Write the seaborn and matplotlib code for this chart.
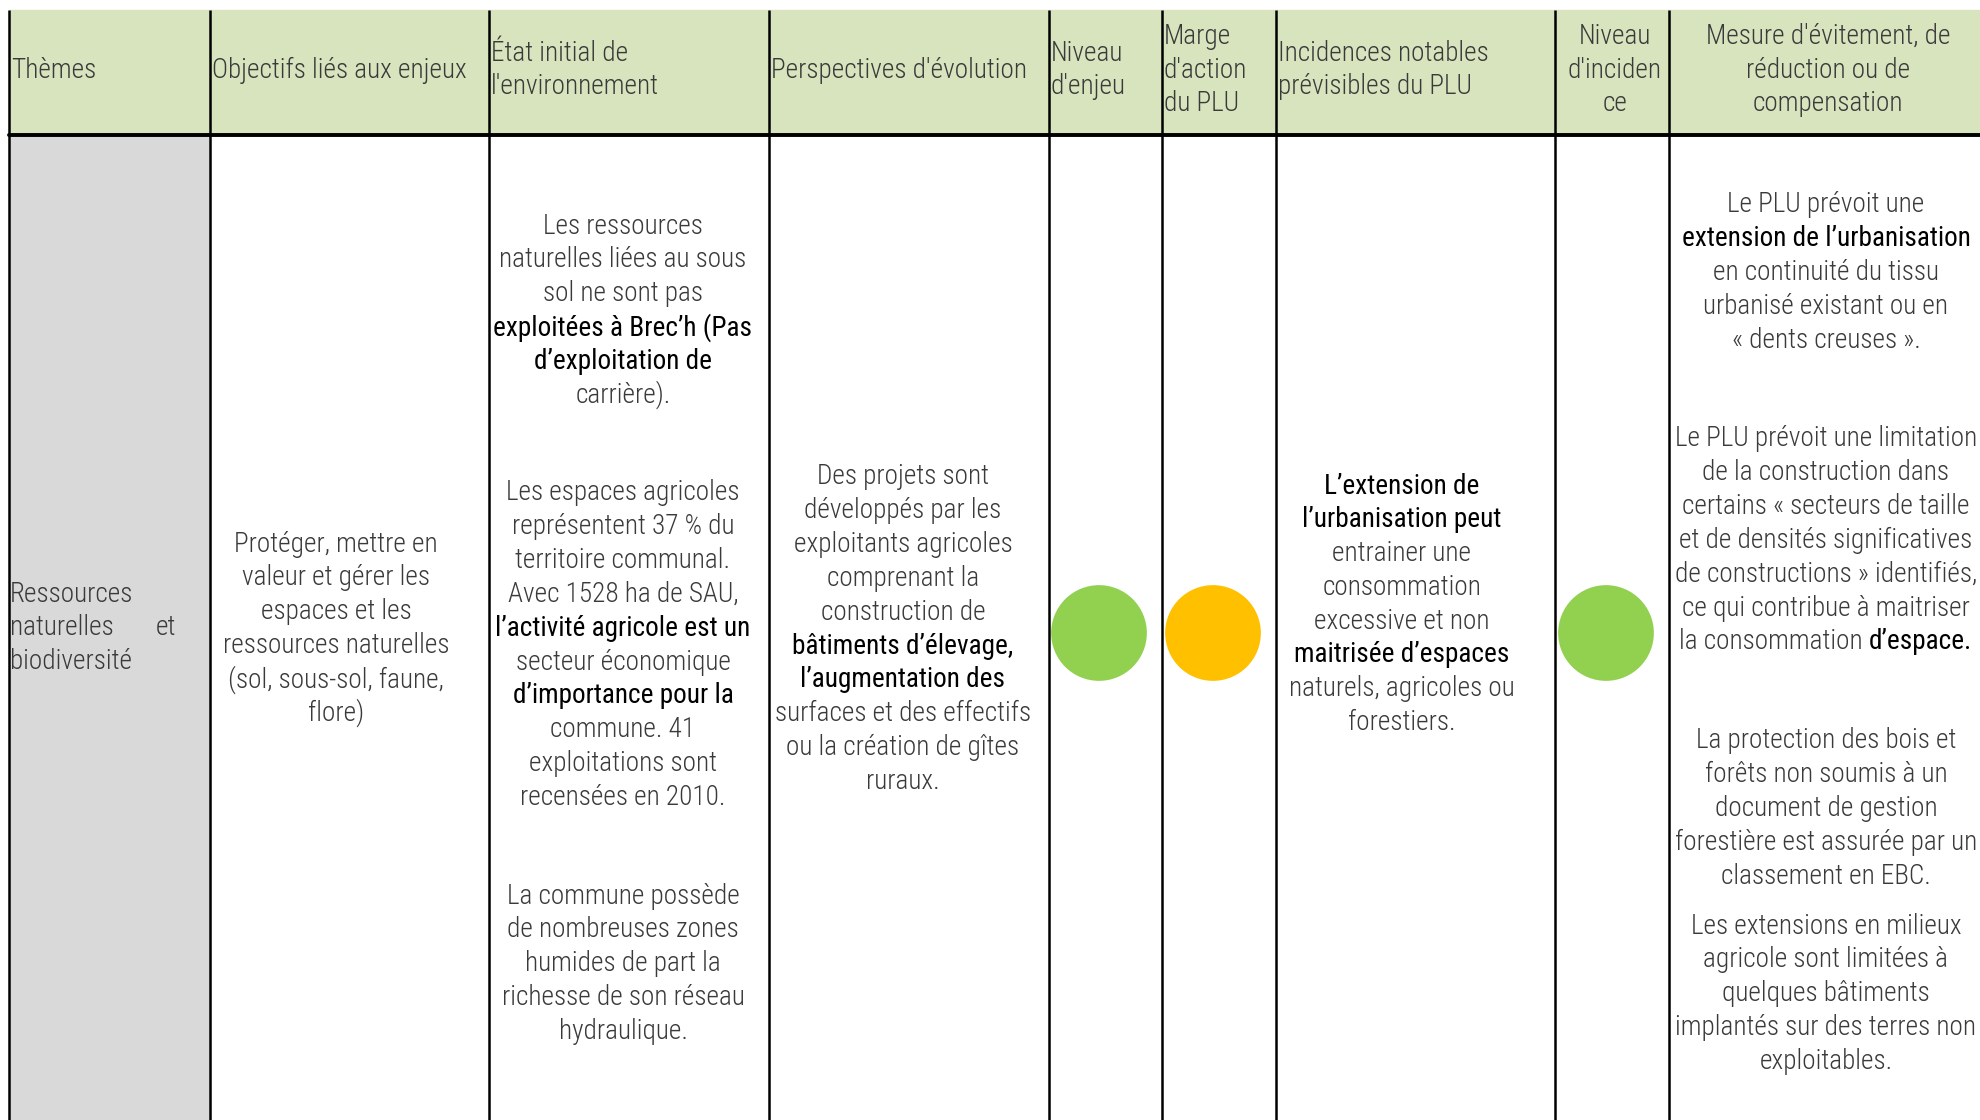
import numpy as np
import pandas as pd
import seaborn as sns
import matplotlib.pyplot as plt
from matplotlib import font_manager
from matplotlib.patches import Rectangle

sns.set_theme(style='white')

installed = {f.name for f in font_manager.fontManager.ttflist}
narrow = [f for f in ['Liberation Sans Narrow', 'Roboto Condensed', 'Liberation Sans'] if f in installed]
plt.rcParams['font.family'] = narrow[:1] + ['DejaVu Sans']

# column layout (pixels) and header texts
col_edges = [9, 210, 489, 769, 1049, 1162, 1276, 1555, 1669, 1981]
headers = [["Thèmes"], ["Objectifs liés aux enjeux"], ["État initial de", "l'environnement"],
           ["Perspectives d'évolution"], ["Niveau", "d'enjeu"], ["Marge", "d'action", "du PLU"],
           ["Incidences notables", "prévisibles du PLU"], ["Niveau", "d'inciden", "ce"],
           ["Mesure d'évitement, de", "réduction ou de", "compensation"]]
header_align = ['left'] * 7 + ['center', 'center']

# level columns: Niveau d'enjeu, Marge d'action, Niveau d'incidence
level_x = [1099, 1213, 1606]
level_colors = ['#92D050', '#FFC000', '#92D050']

# body text, *...* marks emphasised (black) runs
theme_lines = ["Ressources", "naturelles", "biodiversité"]

objectifs = [["Protéger, mettre en", "valeur et gérer les", "espaces et les",
              "ressources naturelles", "(sol, sous-sol, faune,", "flore)"]]

etat_initial = [
    ["Les ressources", "naturelles liées au sous", "sol ne sont pas",
     "*exploitées à Brec’h (Pas*", "*d’exploitation de*", "carrière)."],
    ["Les espaces agricoles", "représentent 37 % du", "territoire communal.",
     "Avec 1528 ha de SAU,", "*l’activité agricole est un*", "secteur économique",
     "*d’importance pour la*", "commune. 41", "exploitations sont", "recensées en 2010."],
    ["La commune possède", "de nombreuses zones", "humides de part la",
     "richesse de son réseau", "hydraulique."],
]

perspectives = [["Des projets sont", "développés par les", "exploitants agricoles",
                 "comprenant la", "construction de", "*bâtiments d’élevage,*",
                 "*l’augmentation des*", "surfaces et des effectifs",
                 "ou la création de gîtes", "ruraux."]]

incidences = [["*L’extension de*", "*l’urbanisation peut*", "entrainer une",
               "consommation", "excessive et non", "*maitrisée d’espaces*",
               "naturels, agricoles ou", "forestiers."]]

mesures = [
    ["Le PLU prévoit une", "*extension de l’urbanisation*", "en continuité du tissu",
     "urbanisé existant ou en", "« dents creuses »."],
    ["Le PLU prévoit une limitation", "de la construction dans",
     "certains « secteurs de taille", "et de densités significatives",
     "de constructions » identifiés,", "ce qui contribue à maitriser",
     "la consommation *d’espace.*"],
    ["La protection des bois et", "forêts non soumis à un", "document de gestion",
     "forestière est assurée par un", "classement en EBC."],
    ["Les extensions en milieux", "agricole sont limitées à", "quelques bâtiments",
     "implantés sur des terres non", "exploitables."],
]

# (text centre x, paragraphs, first-line y of each paragraph)
body = [
    (336, objectifs, [544]),
    (623, etat_initial, [226, 493, 896]),
    (903, perspectives, [477]),
    (1402, incidences, [486]),
    (1826, mesures, [205, 439, 741, 926]),
]

W, H = 1981, 1120
TOP, HEAD_BOT = 10, 135
LINE = 33.8
FS = 19.6
NORMAL_C = '#3a3a3a'
HEADER_GREEN = '#D7E4BD'
GREY = '#D9D9D9'
LIGHT = 'light'

fig = plt.figure(figsize=(W / 100, H / 100), dpi=100)
ax = fig.add_axes([0, 0, 1, 1])
ax.set_xlim(0, W)
ax.set_ylim(H, 0)
ax.axis('off')

# backgrounds
ax.add_patch(Rectangle((col_edges[0], TOP), W - col_edges[0], HEAD_BOT - TOP,
                       color=HEADER_GREEN, zorder=0))
ax.add_patch(Rectangle((col_edges[0], HEAD_BOT), col_edges[1] - col_edges[0], H - HEAD_BOT,
                       color=GREY, zorder=0))

# grid lines
for x in col_edges[:-1]:
    ax.plot([x, x], [TOP, H], color='black', lw=1.8, zorder=3, solid_capstyle='butt')
ax.plot([col_edges[0], W], [HEAD_BOT, HEAD_BOT], color='black', lw=2.8, zorder=3)

# header texts
HEAD_MID = 70
for i, (lines, al) in enumerate(zip(headers, header_align)):
    x0, x1 = col_edges[i], col_edges[i + 1]
    x = x0 + 2 if al == 'left' else (x0 + x1) / 2 + 3
    first = HEAD_MID - (len(lines) - 1) * LINE / 2
    for j, line in enumerate(lines):
        ax.text(x, first + j * LINE, line, ha=al, va='center', fontsize=FS,
                color=NORMAL_C, fontweight=LIGHT)

renderer = fig.canvas.get_renderer()


def draw_line(xc, y, line):
    parts = line.split('*')
    items = []
    for k, p in enumerate(parts):
        if not p:
            continue
        strong = k % 2 == 1
        t = ax.text(0, y, p, ha='left', va='center', fontsize=FS,
                    fontweight='normal' if strong else LIGHT,
                    color='black' if strong else NORMAL_C)
        items.append(t)
    widths = [t.get_window_extent(renderer).width for t in items]
    x = xc - sum(widths) / 2
    for t, w in zip(items, widths):
        t.set_x(x)
        x += w


for xc, paragraphs, starts in body:
    for para, y0 in zip(paragraphs, starts):
        for j, line in enumerate(para):
            draw_line(xc, y0 + j * LINE, line)

# themes column: justified text
ty = 594
kw = dict(va='center', fontsize=FS, color=NORMAL_C, fontweight=LIGHT)
ax.text(col_edges[0] + 1, ty, theme_lines[0], ha='left', **kw)
ax.text(col_edges[0] + 1, ty + LINE, theme_lines[1], ha='left', **kw)
ax.text(176, ty + LINE, "et", ha='right', **kw)
ax.text(col_edges[0] + 1, ty + 2 * LINE, theme_lines[2], ha='left', **kw)

# level circles
levels = pd.DataFrame({
    'x': level_x,
    'y': [633] * len(level_x),
    'col': level_colors,
})
sns.scatterplot(data=levels, x='x', y='y', hue='col', palette={c: c for c in level_colors},
                s=4750, linewidth=0, legend=False, ax=ax, zorder=4)
ax.set_xlim(0, W)
ax.set_ylim(H, 0)
ax.axis('off')

fig.savefig('out.png', dpi=100)
